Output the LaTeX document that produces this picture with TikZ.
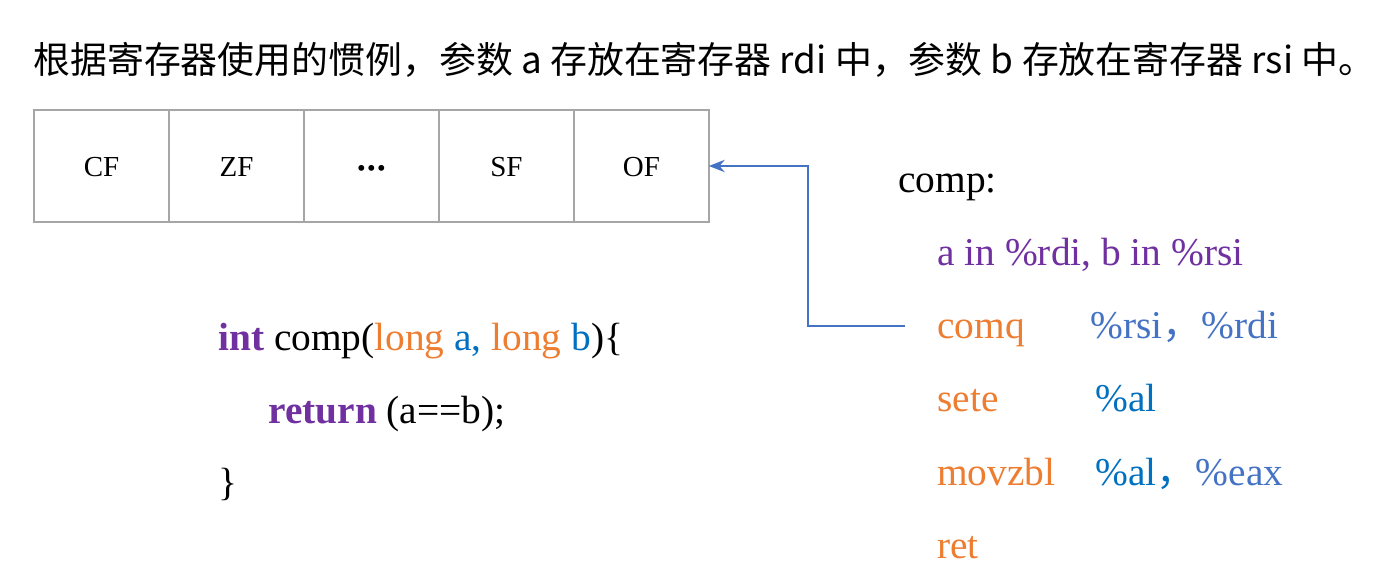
\documentclass[tikz,border=0pt]{standalone}
\usepackage{fontspec}
\setmainfont{Liberation Serif}
\newfontfamily\cjkfont{Noto Sans CJK SC}
\usetikzlibrary{positioning, arrows.meta, calc}
\definecolor{flaggray}{HTML}{A6A6A6}
\definecolor{asmorange}{HTML}{ED7D31}
\definecolor{asmblue}{HTML}{4472C4}
\definecolor{regblue}{HTML}{0070C0}
\definecolor{kwpurple}{HTML}{7030A0}

\begin{document}
\begin{tikzpicture}[x=0.02cm, y=-0.02cm,
        flag/.style={draw=flaggray, line width=1.5pt, minimum width=2.7cm, minimum height=2.24cm, inner sep=0pt, outer sep=0pt, text height=12.4pt, text depth=0pt, font=\fontsize{16.5}{20}\selectfont},
        code/.style={anchor=base west, inner sep=0pt, font=\fontsize{22.4}{26}\selectfont},
        link/.style={-{Stealth[length=9pt, width=7pt]}, draw=asmblue, line width=1.2pt}
    ]
        \useasboundingbox (0,0) rectangle (1384,581);

        % Title
        \node[anchor=west, inner sep=0pt, font=\cjkfont\fontsize{21}{24}\selectfont] (title) at (33,60)
            {根据寄存器使用的惯例，参数 a 存放在寄存器 rdi 中，参数 b 存放在寄存器 rsi 中。};

        % Flag register cells
        \node[flag] (cf) at (101.5,166) {CF};
        \node[flag, right=0pt of cf] (zf) {ZF};
        \node[flag, right=0pt of zf] (dots) {{\fontsize{14}{14}\selectfont\textbullet\hspace{0.8pt}\textbullet\hspace{0.8pt}\textbullet}};
        \node[flag, right=0pt of dots] (sf) {SF};
        \node[flag, right=0pt of sf] (of) {OF};

        % C source
        \node[code] (sig) at (218,350) {{\color{kwpurple}\bfseries int} comp({\color{asmorange}long} {\color{regblue}a,} {\color{asmorange}long} {\color{regblue}b})\{};
        \node[code] (ret) at (268,423) {{\color{kwpurple}\bfseries return} (a==b);};
        \node[code] (close) at (218,495) {\}};

        % Assembly
        \node[code] (comp) at (898,193) {comp:};
        \node[code, text=kwpurple] (args) at (937,265) {a in \%rdi, b in \%rsi};
        \node[code, text=asmorange] (comq) at (937,338) {comq};
        \node[code, text=asmblue] (comqops) at (1090,338) {\%rsi{\cjkfont ，}\%rdi};
        \node[code, text=asmorange] (sete) at (937,411) {sete};
        \node[code, text=regblue] (seteops) at (1095,411) {\%al};
        \node[code, text=asmorange] (movzbl) at (937,485) {movzbl};
        \node[code, text=regblue] (movzblops) at (1095,485) {\%al{\cjkfont ，}{\color{asmblue}\%eax}};
        \node[code, text=asmorange] (retq) at (937,558) {ret};

        % comq sets the flags
        \draw[link] ($(comq.base west)+(-32,-12)$) -- ++(-97,0) |- (of.east);
\end{tikzpicture}
\end{document}
